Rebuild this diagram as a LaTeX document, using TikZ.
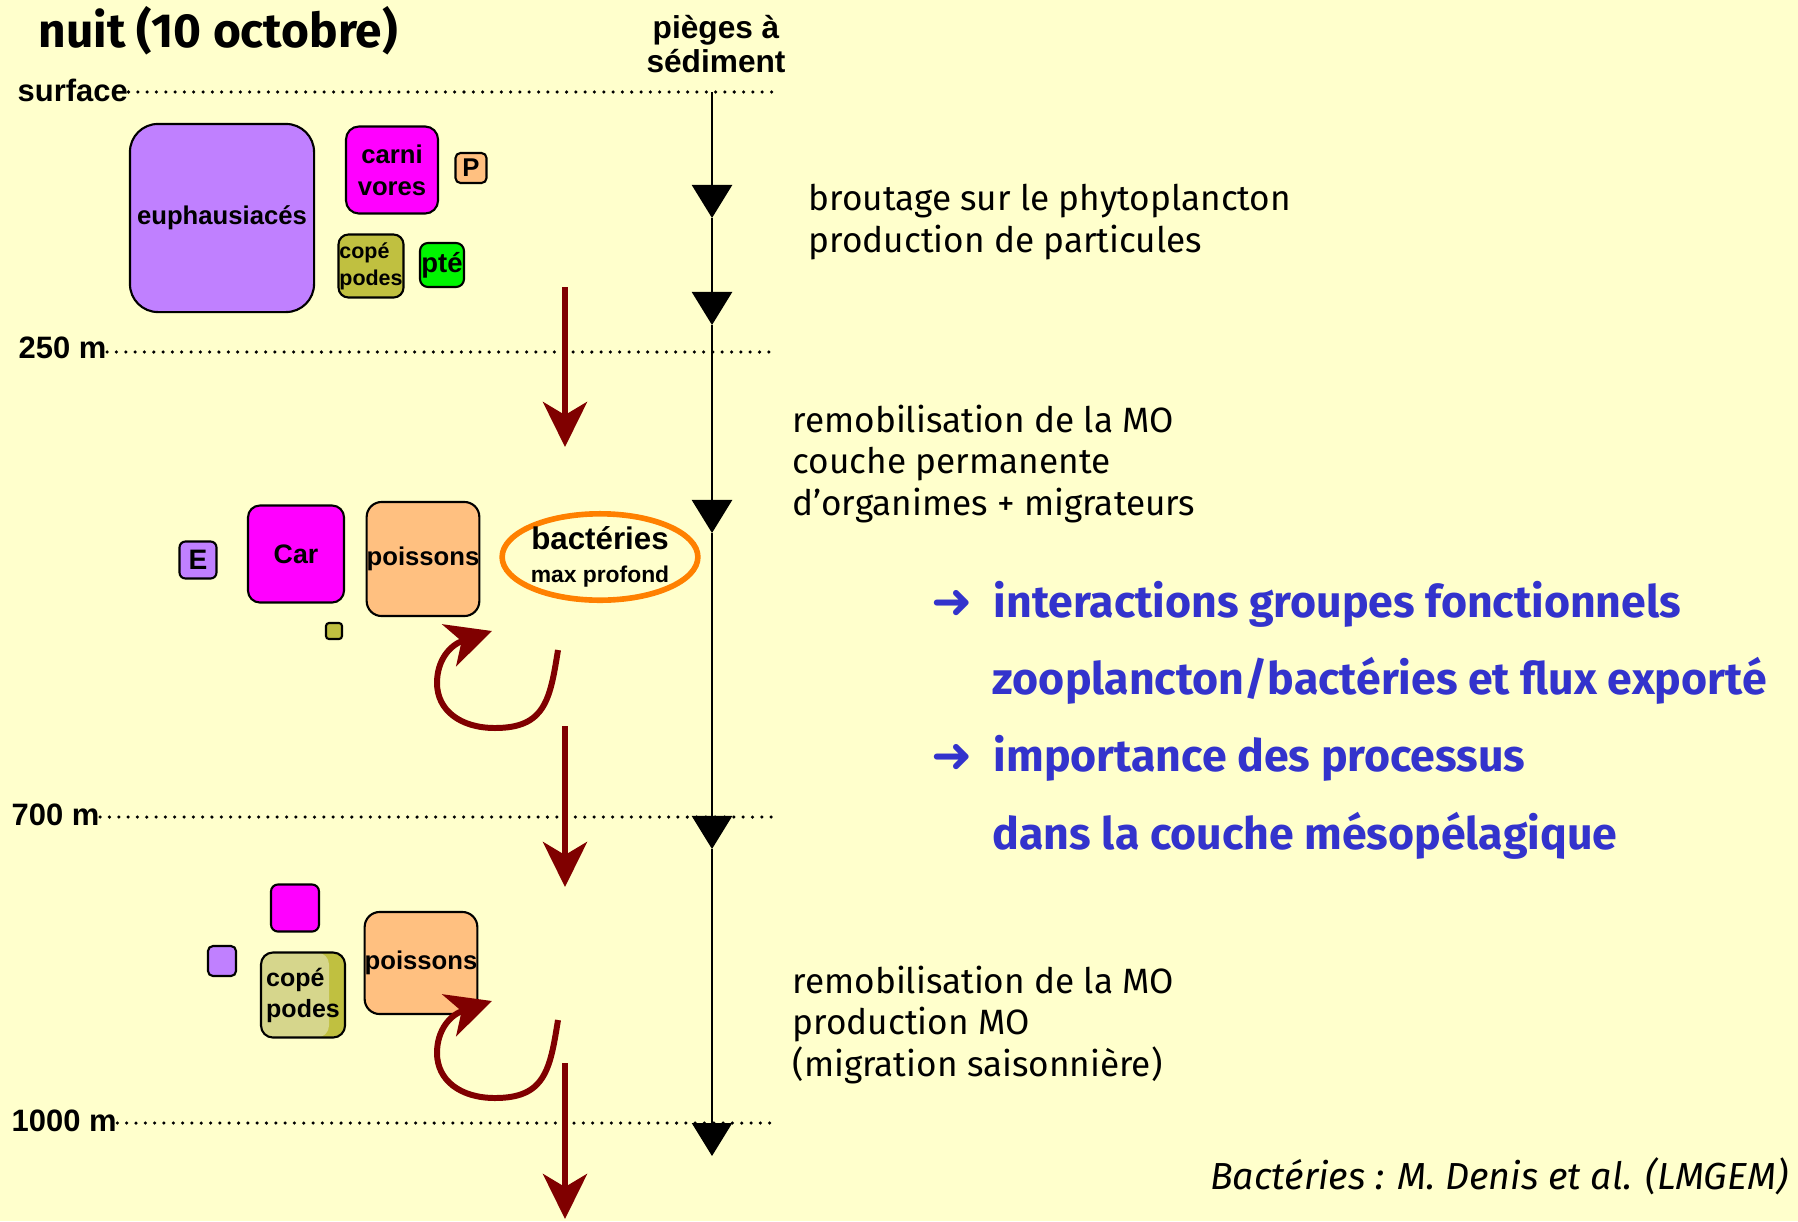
\documentclass[tikz,border=0pt]{standalone}
\usepackage{fontspec}
\setmainfont{Fira Sans}
\newfontfamily\arialfont{Liberation Sans}
\newfontfamily\arrowfont{DejaVu Sans}
\usepackage{tikz}
\usetikzlibrary{shapes,arrows.meta,positioning}
\definecolor{cream}{RGB}{255,255,204}
\definecolor{euphcol}{RGB}{192,128,255}
\definecolor{carncol}{RGB}{255,0,255}
\definecolor{poiscol}{RGB}{255,192,128}
\definecolor{copecol}{RGB}{192,192,64}
\definecolor{copelight}{RGB}{214,214,140}
\definecolor{ptecol}{RGB}{0,245,0}
\definecolor{fluxred}{RGB}{128,0,0}
\definecolor{bactorange}{RGB}{255,128,0}
\definecolor{textblue}{RGB}{51,51,204}
\tikzstyle{grp} = [draw=black, line width=0.6pt, inner sep=0pt, align=center, text=black, font=\arialfont\bfseries\fontsize{7.3}{9.1}\selectfont]
\tikzstyle{depth} = [inner sep=0pt, anchor=west, font=\arialfont\bfseries\fontsize{8.8}{10}\selectfont]
\tikzstyle{dotline} = [line width=1pt, line cap=round, dash pattern=on 0pt off 2.65pt]
\tikzstyle{trap} = [line width=0.7pt, -{Triangle[length=0.33cm,width=0.40cm]}]
\tikzstyle{flux} = [draw=fluxred, line width=1.7pt, -{Stealth[length=0.45cm,width=0.44cm,inset=0.13cm]}]
\tikzstyle{note} = [inner sep=0pt, anchor=west, align=left, font=\fontsize{10}{11.7}\selectfont]
\tikzstyle{concl} = [inner sep=0pt, anchor=west, text=textblue, font=\bfseries\fontsize{12.7}{14}\selectfont]
\tikzstyle{arrowmark} = [inner sep=0pt, text=textblue, font=\arrowfont\bfseries\fontsize{14}{15}\selectfont]

\begin{document}
\begin{tikzpicture}[x=0.01cm, y=-0.01cm]
\fill[cream] (0,0) rectangle (1798,1221);
\useasboundingbox (0,0) rectangle (1798,1221);

% titles =============================
\node[inner sep=0pt, anchor=west, font=\bfseries\fontsize{13.6}{15}\selectfont] (title) at (38,31) {nuit (10 octobre)};
\node[inner sep=0pt, align=center, font=\arialfont\bfseries\fontsize{9}{9.7}\selectfont] (traps) at (716,44) {pièges à\\sédiment};

% depths =============================
\node[depth] (lsurf) at (17,90) {surface};
\node[depth] (l250) at (18,348) {250 m};
\node[depth] (l700) at (11,815) {700 m};
\node[depth] (l1000) at (11,1121) {1000 m};
\coordinate (esurf) at (777,92);
\coordinate (e250) at (777,352);
\coordinate (e700) at (777,817);
\coordinate (e1000) at (777,1123);

% sediment trap line =============================
\coordinate (ttop) at (712,92);
\coordinate (t1) at (712,218);
\coordinate (t2) at (712,325);
\coordinate (t3) at (712,533);
\coordinate (t4) at (712,849);
\coordinate (t5) at (712,1156);

% zooplankton =============================
\node[grp, fill=euphcol, rounded corners=0.28cm, minimum width=1.84cm, minimum height=1.88cm] (euph) at (222,218) {euphausiacés};
\node[grp, fill=carncol, rounded corners=0.13cm, minimum width=0.92cm, minimum height=0.87cm] (carni) at (392,170) {carni\\vores};
\node[grp, fill=poiscol, rounded corners=0.05cm, minimum width=0.31cm, minimum height=0.30cm] (pp) at (471,168) {P};
\node[grp, fill=copecol, rounded corners=0.10cm, minimum width=0.65cm, minimum height=0.63cm, align=left, font=\arialfont\bfseries\fontsize{6.1}{7.7}\selectfont] (cope1) at (371,266) {copé\\podes};
\node[grp, fill=ptecol, rounded corners=0.08cm, minimum width=0.44cm, minimum height=0.44cm, font=\arialfont\bfseries\fontsize{7.8}{9}\selectfont] (pte) at (442,265) {pté};
\node[grp, fill=euphcol, rounded corners=0.06cm, minimum width=0.37cm, minimum height=0.37cm, font=\arialfont\bfseries\fontsize{8}{9}\selectfont] (ee) at (198,560) {E};
\node[grp, fill=carncol, rounded corners=0.12cm, minimum width=0.96cm, minimum height=0.97cm, font=\arialfont\bfseries\fontsize{7.6}{9}\selectfont] (car) at (296,554) {Car};
\node[grp, fill=copecol, rounded corners=0.03cm, minimum width=0.16cm, minimum height=0.16cm] (cope0) at (334,631) {};
\node[grp, fill=poiscol, rounded corners=0.15cm, minimum width=1.12cm, minimum height=1.14cm] (pois1) at (423,559) {poissons};
\node[ellipse, draw=bactorange, line width=1.6pt, inner sep=0pt, minimum width=1.94cm, minimum height=0.80cm, align=center] (bact) at (600,557) {{\arialfont\bfseries\fontsize{8.9}{9}\selectfont bactéries}\\[-2.5pt]{\arialfont\bfseries\fontsize{6.5}{7}\selectfont max profond}};
\node[grp, fill=carncol, rounded corners=0.07cm, minimum width=0.48cm, minimum height=0.47cm] (carn2) at (295,908) {};
\node[grp, fill=euphcol, rounded corners=0.05cm, minimum width=0.28cm, minimum height=0.30cm] (euph2) at (222,961) {};
\node[grp, fill=copecol, rounded corners=0.12cm, minimum width=0.84cm, minimum height=0.85cm, align=left, font=\arialfont\bfseries\fontsize{7.1}{8.8}\selectfont,
  path picture={\fill[copelight] (path picture bounding box.north west) rectangle ([xshift=-0.16cm]path picture bounding box.south east);}] (cope2) at (303,995) {copé\\podes};
\node[grp, fill=poiscol, rounded corners=0.15cm, minimum width=1.08cm, minimum height=1.02cm] (pois2) at (421,963) {poissons};

% flux =============================
\coordinate (f1s) at (565,287);
\coordinate (f1e) at (565,447);
\coordinate (f2s) at (565,726);
\coordinate (f2e) at (565,887);
\coordinate (f3s) at (565,1063);
\coordinate (f3e) at (565,1219);
\coordinate (c1s) at (558,650);
\coordinate (c1e) at (492,631);
\coordinate (c2s) at (558,1020);
\coordinate (c2e) at (492,1001);

% notes =============================
\node[note] (n1) at (808,222) {broutage sur le phytoplancton\\production de particules};
\node[note] (n2) at (792,464) {remobilisation de la MO\\couche permanente\\d'organimes + migrateurs};
\node[note] (n3) at (792,1025) {remobilisation de la MO\\production MO\\(migration saisonnière)};
\node[concl] (k1) at (993,604) {interactions groupes fonctionnels};
\node[concl] (k2) at (992,681) {zooplancton/bactéries et flux exporté};
\node[concl] (k3) at (993,758) {importance des processus};
\node[concl] (k4) at (992,836) {dans la couche mésopélagique};
\node[arrowmark, left=0.2cm of k1] (m1) {➜};
\node[arrowmark, left=0.2cm of k3] (m3) {➜};
\node[inner sep=0pt, anchor=east, font=\itshape\fontsize{10.7}{12}\selectfont] (credit) at (1789,1176) {Bactéries : M. Denis et al. (LMGEM)};

% edges =============================
\draw[dotline] (lsurf.east |- esurf) -- (esurf);
\draw[dotline] (l250.east |- e250) -- (e250);
\draw[dotline] (l700.east |- e700) -- (e700);
\draw[dotline] (l1000.east |- e1000) -- (e1000);
\draw[trap] (ttop) -- (t1);
\draw[trap] (t1) -- (t2);
\draw[trap] (t2) -- (t3);
\draw[trap] (t3) -- (t4);
\draw[trap] (t4) -- (t5);
\draw[flux] (f1s) -- (f1e);
\draw[flux] (f2s) -- (f2e);
\draw[flux] (f3s) -- (f3e);
\draw[flux] (c1s) .. controls (550,700) and (545,728) .. (495,728) .. controls (460,728) and (437,710) .. (437,683) .. controls (437,660) and (450,645) .. (c1e);
\draw[flux] (c2s) .. controls (550,1070) and (545,1098) .. (495,1098) .. controls (460,1098) and (437,1080) .. (437,1053) .. controls (437,1030) and (450,1015) .. (c2e);

\end{tikzpicture}
\end{document}
